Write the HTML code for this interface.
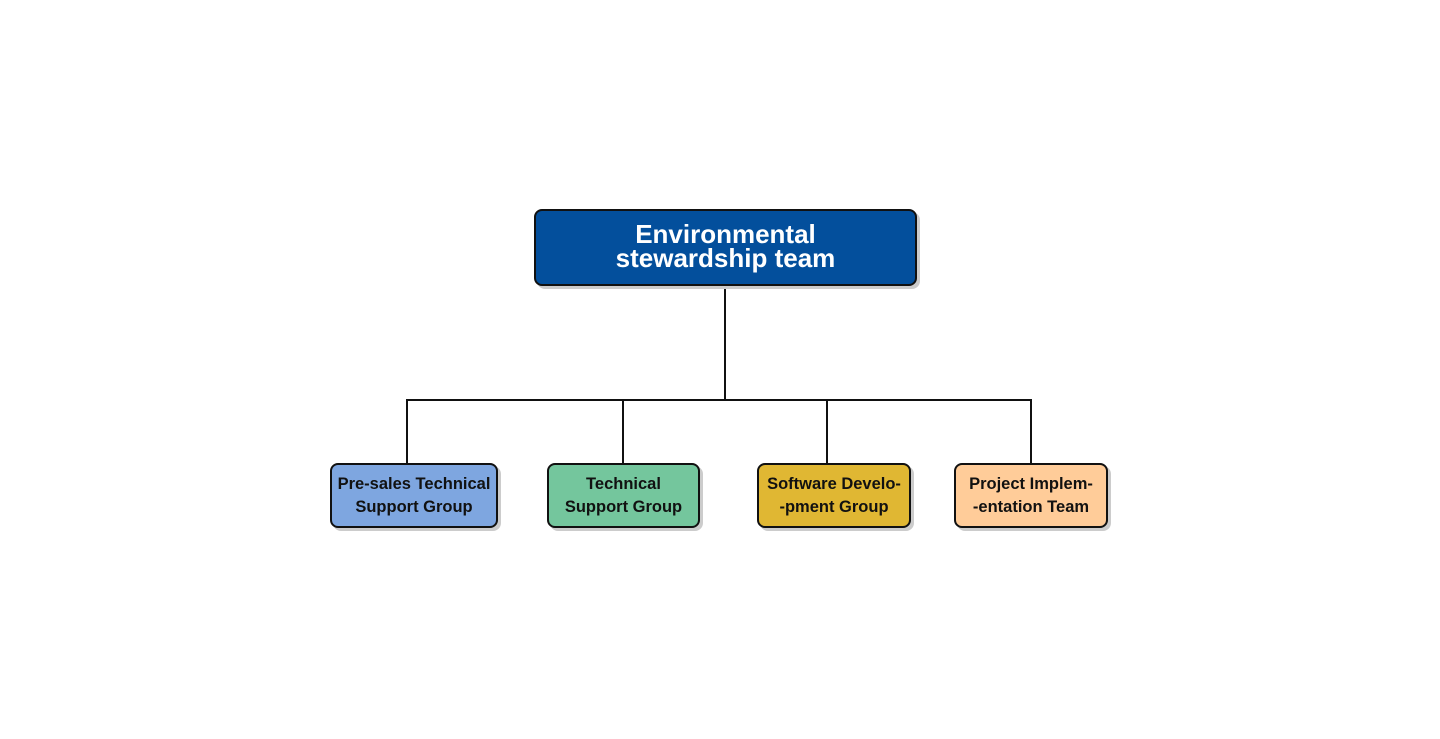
<!DOCTYPE html>
<html><head><meta charset="utf-8"><style>
body{margin:0;width:1440px;height:739px;background:#fff;position:relative;overflow:hidden;font-family:"Liberation Sans","Noto Sans CJK SC",sans-serif;font-weight:bold}
.b{position:absolute;box-sizing:border-box;border:2px solid #111;border-radius:8px;display:flex;align-items:center;justify-content:center;text-align:center;box-shadow:3px 3px 0 #ccc;white-space:nowrap}
.c{font-size:16.5px;line-height:23px;color:#111}
</style></head><body>
<svg width="1440" height="739" style="position:absolute;left:0;top:0">
<g stroke="#111" stroke-width="2" fill="none">
<line x1="725" y1="286" x2="725" y2="400"/>
<line x1="406" y1="400" x2="1032" y2="400"/>
<line x1="407" y1="400" x2="407" y2="463"/>
<line x1="623" y1="400" x2="623" y2="463"/>
<line x1="827" y1="400" x2="827" y2="463"/>
<line x1="1031" y1="400" x2="1031" y2="463"/>
</g></svg>
<div class="b" style="left:534px;top:209px;width:383px;height:77px;background:#034f9c;color:#fff;font-size:26px;line-height:24px;padding-bottom:4px">Environmental<br>stewardship team</div>
<div class="b c" style="left:330px;top:463px;width:168px;height:65px;background:#7ea6e0">Pre-sales Technical<br>Support Group</div>
<div class="b c" style="left:547px;top:463px;width:153px;height:65px;background:#74c69d">Technical<br>Support Group</div>
<div class="b c" style="left:757px;top:463px;width:154px;height:65px;background:#e0b733">Software Develo-<br>-pment Group</div>
<div class="b c" style="left:954px;top:463px;width:154px;height:65px;background:#ffcc99">Project Implem-<br>-entation Team</div>
</body></html>
